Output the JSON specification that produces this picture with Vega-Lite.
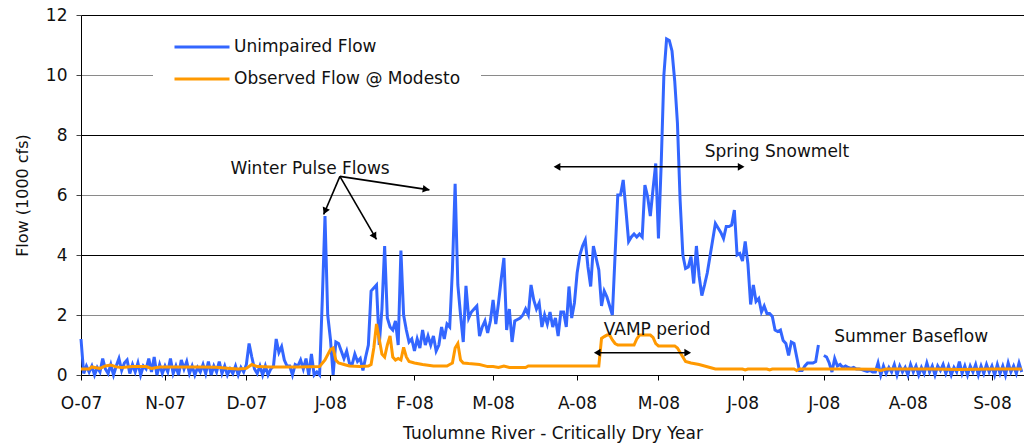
{
  "$schema": "https://vega.github.io/schema/vega-lite/v6.json",
  "width": 943,
  "height": 360,
  "autosize": {"type": "none"},
  "padding": {"left": 81, "top": 15, "right": 0, "bottom": 69},
  "background": "white",
  "config": {
    "view": {"stroke": null},
    "font": "DejaVu Sans",
    "text": {"font": "DejaVu Sans"}
  },
  "datasets": {
    "unimpaired": [
      {"date": "2007-10-01", "flow": 1.2}, {"date": "2007-10-02", "flow": 0.05}, {"date": "2007-10-03", "flow": 0.3}, {"date": "2007-10-04", "flow": 0.1}, {"date": "2007-10-05", "flow": 0.3}, {"date": "2007-10-06", "flow": 0.0}, {"date": "2007-10-07", "flow": 0.25}, {"date": "2007-10-08", "flow": 0.1}, {"date": "2007-10-09", "flow": 0.55}, {"date": "2007-10-10", "flow": 0.2}, {"date": "2007-10-11", "flow": 0.05}, {"date": "2007-10-12", "flow": 0.35}, {"date": "2007-10-13", "flow": 0.0}, {"date": "2007-10-14", "flow": 0.3}, {"date": "2007-10-15", "flow": 0.55}, {"date": "2007-10-16", "flow": 0.15}, {"date": "2007-10-17", "flow": 0.4}, {"date": "2007-10-18", "flow": 0.5}, {"date": "2007-10-19", "flow": 0.05}, {"date": "2007-10-20", "flow": 0.35}, {"date": "2007-10-21", "flow": 0.1}, {"date": "2007-10-22", "flow": 0.4}, {"date": "2007-10-23", "flow": 0.0}, {"date": "2007-10-24", "flow": 0.3}, {"date": "2007-10-25", "flow": 0.2}, {"date": "2007-10-26", "flow": 0.55}, {"date": "2007-10-27", "flow": 0.1}, {"date": "2007-10-28", "flow": 0.6}, {"date": "2007-10-29", "flow": 0.0}, {"date": "2007-10-30", "flow": 0.35}, {"date": "2007-10-31", "flow": 0.05},
      {"date": "2007-11-01", "flow": 0.3}, {"date": "2007-11-02", "flow": 0.1}, {"date": "2007-11-03", "flow": 0.55}, {"date": "2007-11-04", "flow": 0.05}, {"date": "2007-11-05", "flow": 0.3}, {"date": "2007-11-06", "flow": 0.0}, {"date": "2007-11-07", "flow": 0.5}, {"date": "2007-11-08", "flow": 0.2}, {"date": "2007-11-09", "flow": 0.45}, {"date": "2007-11-10", "flow": 0.05}, {"date": "2007-11-11", "flow": 0.3}, {"date": "2007-11-12", "flow": 0.0}, {"date": "2007-11-13", "flow": 0.25}, {"date": "2007-11-14", "flow": 0.1}, {"date": "2007-11-15", "flow": 0.35}, {"date": "2007-11-16", "flow": 0.05}, {"date": "2007-11-17", "flow": 0.45}, {"date": "2007-11-18", "flow": 0.0}, {"date": "2007-11-19", "flow": 0.3}, {"date": "2007-11-20", "flow": 0.1}, {"date": "2007-11-21", "flow": 0.45}, {"date": "2007-11-22", "flow": 0.05}, {"date": "2007-11-23", "flow": 0.3}, {"date": "2007-11-24", "flow": 0.0}, {"date": "2007-11-25", "flow": 0.2}, {"date": "2007-11-26", "flow": 0.05}, {"date": "2007-11-27", "flow": 0.3}, {"date": "2007-11-28", "flow": 0.0}, {"date": "2007-11-29", "flow": 0.25}, {"date": "2007-11-30", "flow": 0.1},
      {"date": "2007-12-01", "flow": 0.35}, {"date": "2007-12-02", "flow": 1.05}, {"date": "2007-12-03", "flow": 0.6}, {"date": "2007-12-04", "flow": 0.2}, {"date": "2007-12-05", "flow": 0.05}, {"date": "2007-12-06", "flow": 0.3}, {"date": "2007-12-07", "flow": 0.0}, {"date": "2007-12-08", "flow": 0.3}, {"date": "2007-12-09", "flow": 0.0}, {"date": "2007-12-10", "flow": 0.2}, {"date": "2007-12-11", "flow": 0.3}, {"date": "2007-12-12", "flow": 1.2}, {"date": "2007-12-13", "flow": 0.75}, {"date": "2007-12-14", "flow": 0.95}, {"date": "2007-12-15", "flow": 0.5}, {"date": "2007-12-16", "flow": 0.3}, {"date": "2007-12-17", "flow": 0.3}, {"date": "2007-12-18", "flow": 0.0}, {"date": "2007-12-19", "flow": 0.35}, {"date": "2007-12-20", "flow": 0.3}, {"date": "2007-12-21", "flow": 0.5}, {"date": "2007-12-22", "flow": 0.2}, {"date": "2007-12-23", "flow": 0.55}, {"date": "2007-12-24", "flow": 0.0}, {"date": "2007-12-25", "flow": 0.7}, {"date": "2007-12-26", "flow": 0.0}, {"date": "2007-12-27", "flow": 0.1}, {"date": "2007-12-28", "flow": 0.0}, {"date": "2007-12-29", "flow": 2.5}, {"date": "2007-12-30", "flow": 5.3}, {"date": "2007-12-31", "flow": 2.0},
      {"date": "2008-01-01", "flow": 1.2}, {"date": "2008-01-02", "flow": 0.0}, {"date": "2008-01-03", "flow": 1.1}, {"date": "2008-01-04", "flow": 1.05}, {"date": "2008-01-05", "flow": 0.8}, {"date": "2008-01-06", "flow": 0.55}, {"date": "2008-01-07", "flow": 0.8}, {"date": "2008-01-08", "flow": 0.4}, {"date": "2008-01-09", "flow": 0.35}, {"date": "2008-01-10", "flow": 0.7}, {"date": "2008-01-11", "flow": 0.45}, {"date": "2008-01-12", "flow": 0.55}, {"date": "2008-01-13", "flow": 0.15}, {"date": "2008-01-14", "flow": 0.6}, {"date": "2008-01-15", "flow": 1.0}, {"date": "2008-01-16", "flow": 2.8}, {"date": "2008-01-17", "flow": 2.9}, {"date": "2008-01-18", "flow": 3.0}, {"date": "2008-01-19", "flow": 1.0}, {"date": "2008-01-20", "flow": 2.2}, {"date": "2008-01-21", "flow": 4.3}, {"date": "2008-01-22", "flow": 1.9}, {"date": "2008-01-23", "flow": 1.6}, {"date": "2008-01-24", "flow": 1.5}, {"date": "2008-01-25", "flow": 1.8}, {"date": "2008-01-26", "flow": 1.0}, {"date": "2008-01-27", "flow": 4.15}, {"date": "2008-01-28", "flow": 2.0}, {"date": "2008-01-29", "flow": 1.5}, {"date": "2008-01-30", "flow": 1.1}, {"date": "2008-01-31", "flow": 1.2},
      {"date": "2008-02-01", "flow": 0.8}, {"date": "2008-02-02", "flow": 1.2}, {"date": "2008-02-03", "flow": 0.9}, {"date": "2008-02-04", "flow": 1.5}, {"date": "2008-02-05", "flow": 1.0}, {"date": "2008-02-06", "flow": 1.3}, {"date": "2008-02-07", "flow": 1.0}, {"date": "2008-02-08", "flow": 1.3}, {"date": "2008-02-09", "flow": 0.8}, {"date": "2008-02-10", "flow": 1.0}, {"date": "2008-02-11", "flow": 1.6}, {"date": "2008-02-12", "flow": 1.2}, {"date": "2008-02-13", "flow": 1.7}, {"date": "2008-02-14", "flow": 1.6}, {"date": "2008-02-15", "flow": 3.5}, {"date": "2008-02-16", "flow": 6.37}, {"date": "2008-02-17", "flow": 3.0}, {"date": "2008-02-18", "flow": 2.0}, {"date": "2008-02-19", "flow": 1.1}, {"date": "2008-02-20", "flow": 2.97}, {"date": "2008-02-21", "flow": 1.9}, {"date": "2008-02-22", "flow": 2.1}, {"date": "2008-02-23", "flow": 2.2}, {"date": "2008-02-24", "flow": 2.3}, {"date": "2008-02-25", "flow": 1.3}, {"date": "2008-02-26", "flow": 1.6}, {"date": "2008-02-27", "flow": 1.8}, {"date": "2008-02-28", "flow": 1.4}, {"date": "2008-02-29", "flow": 1.8},
      {"date": "2008-03-01", "flow": 2.5}, {"date": "2008-03-02", "flow": 1.7}, {"date": "2008-03-03", "flow": 2.4}, {"date": "2008-03-04", "flow": 3.2}, {"date": "2008-03-05", "flow": 3.9}, {"date": "2008-03-06", "flow": 1.5}, {"date": "2008-03-07", "flow": 2.2}, {"date": "2008-03-08", "flow": 1.1}, {"date": "2008-03-09", "flow": 1.8}, {"date": "2008-03-10", "flow": 1.85}, {"date": "2008-03-11", "flow": 1.9}, {"date": "2008-03-12", "flow": 2.0}, {"date": "2008-03-13", "flow": 2.2}, {"date": "2008-03-14", "flow": 2.0}, {"date": "2008-03-15", "flow": 3.0}, {"date": "2008-03-16", "flow": 2.5}, {"date": "2008-03-17", "flow": 2.2}, {"date": "2008-03-18", "flow": 2.4}, {"date": "2008-03-19", "flow": 1.6}, {"date": "2008-03-20", "flow": 2.0}, {"date": "2008-03-21", "flow": 1.7}, {"date": "2008-03-22", "flow": 2.1}, {"date": "2008-03-23", "flow": 1.6}, {"date": "2008-03-24", "flow": 1.9}, {"date": "2008-03-25", "flow": 1.3}, {"date": "2008-03-26", "flow": 2.1}, {"date": "2008-03-27", "flow": 2.1}, {"date": "2008-03-28", "flow": 1.6}, {"date": "2008-03-29", "flow": 2.95}, {"date": "2008-03-30", "flow": 1.9}, {"date": "2008-03-31", "flow": 2.4},
      {"date": "2008-04-01", "flow": 3.4}, {"date": "2008-04-02", "flow": 4.0}, {"date": "2008-04-03", "flow": 4.3}, {"date": "2008-04-04", "flow": 4.5}, {"date": "2008-04-05", "flow": 3.6}, {"date": "2008-04-06", "flow": 2.95}, {"date": "2008-04-07", "flow": 4.3}, {"date": "2008-04-08", "flow": 3.9}, {"date": "2008-04-09", "flow": 3.5}, {"date": "2008-04-10", "flow": 2.3}, {"date": "2008-04-11", "flow": 2.8}, {"date": "2008-04-12", "flow": 2.6}, {"date": "2008-04-13", "flow": 2.3}, {"date": "2008-04-14", "flow": 2.0}, {"date": "2008-04-15", "flow": 4.0}, {"date": "2008-04-16", "flow": 6.0}, {"date": "2008-04-17", "flow": 6.0}, {"date": "2008-04-18", "flow": 6.5}, {"date": "2008-04-19", "flow": 5.5}, {"date": "2008-04-20", "flow": 4.45}, {"date": "2008-04-21", "flow": 4.6}, {"date": "2008-04-22", "flow": 4.7}, {"date": "2008-04-23", "flow": 4.6}, {"date": "2008-04-24", "flow": 4.7}, {"date": "2008-04-25", "flow": 4.6}, {"date": "2008-04-26", "flow": 6.33}, {"date": "2008-04-27", "flow": 5.95}, {"date": "2008-04-28", "flow": 5.3}, {"date": "2008-04-29", "flow": 6.2}, {"date": "2008-04-30", "flow": 7.05},
      {"date": "2008-05-01", "flow": 4.55}, {"date": "2008-05-02", "flow": 7.0}, {"date": "2008-05-03", "flow": 10.0}, {"date": "2008-05-04", "flow": 11.2}, {"date": "2008-05-05", "flow": 11.15}, {"date": "2008-05-06", "flow": 10.8}, {"date": "2008-05-07", "flow": 9.8}, {"date": "2008-05-08", "flow": 8.4}, {"date": "2008-05-09", "flow": 5.8}, {"date": "2008-05-10", "flow": 4.0}, {"date": "2008-05-11", "flow": 3.55}, {"date": "2008-05-12", "flow": 3.6}, {"date": "2008-05-13", "flow": 3.95}, {"date": "2008-05-14", "flow": 3.05}, {"date": "2008-05-15", "flow": 4.3}, {"date": "2008-05-16", "flow": 3.3}, {"date": "2008-05-17", "flow": 2.65}, {"date": "2008-05-18", "flow": 3.0}, {"date": "2008-05-19", "flow": 3.4}, {"date": "2008-05-20", "flow": 3.95}, {"date": "2008-05-21", "flow": 4.5}, {"date": "2008-05-22", "flow": 5.05}, {"date": "2008-05-23", "flow": 4.9}, {"date": "2008-05-24", "flow": 4.75}, {"date": "2008-05-25", "flow": 4.55}, {"date": "2008-05-26", "flow": 4.95}, {"date": "2008-05-27", "flow": 4.95}, {"date": "2008-05-28", "flow": 5.0}, {"date": "2008-05-29", "flow": 5.5}, {"date": "2008-05-30", "flow": 4.0}, {"date": "2008-05-31", "flow": 4.05},
      {"date": "2008-06-01", "flow": 3.8}, {"date": "2008-06-02", "flow": 4.45}, {"date": "2008-06-03", "flow": 3.7}, {"date": "2008-06-04", "flow": 2.35}, {"date": "2008-06-05", "flow": 3.0}, {"date": "2008-06-06", "flow": 2.45}, {"date": "2008-06-07", "flow": 2.55}, {"date": "2008-06-08", "flow": 2.1}, {"date": "2008-06-09", "flow": 2.3}, {"date": "2008-06-10", "flow": 2.05}, {"date": "2008-06-11", "flow": 2.05}, {"date": "2008-06-12", "flow": 1.95}, {"date": "2008-06-13", "flow": 1.5}, {"date": "2008-06-14", "flow": 1.45}, {"date": "2008-06-15", "flow": 1.5}, {"date": "2008-06-16", "flow": 1.15}, {"date": "2008-06-17", "flow": 1.05}, {"date": "2008-06-18", "flow": 0.65}, {"date": "2008-06-19", "flow": 1.1}, {"date": "2008-06-20", "flow": 1.05}, {"date": "2008-06-21", "flow": 0.6}, {"date": "2008-06-22", "flow": 0.15}, {"date": "2008-06-23", "flow": 0.15}, {"date": "2008-06-24", "flow": 0.3}, {"date": "2008-06-25", "flow": 0.4}, {"date": "2008-06-26", "flow": 0.4}, {"date": "2008-06-27", "flow": 0.4}, {"date": "2008-06-28", "flow": 0.45}, {"date": "2008-06-29", "flow": 1.0}, {"date": "2008-06-30", "flow": null},
      {"date": "2008-07-01", "flow": 0.65}, {"date": "2008-07-02", "flow": 0.6}, {"date": "2008-07-03", "flow": 0.4}, {"date": "2008-07-04", "flow": 0.1}, {"date": "2008-07-05", "flow": 0.55}, {"date": "2008-07-06", "flow": 0.3}, {"date": "2008-07-07", "flow": 0.35}, {"date": "2008-07-08", "flow": 0.25}, {"date": "2008-07-09", "flow": 0.3}, {"date": "2008-07-10", "flow": 0.25}, {"date": "2008-07-11", "flow": 0.22}, {"date": "2008-07-12", "flow": 0.25}, {"date": "2008-07-13", "flow": 0.2}, {"date": "2008-07-14", "flow": 0.2}, {"date": "2008-07-15", "flow": 0.18}, {"date": "2008-07-16", "flow": 0.15}, {"date": "2008-07-17", "flow": 0.12}, {"date": "2008-07-18", "flow": 0.15}, {"date": "2008-07-19", "flow": 0.1}, {"date": "2008-07-20", "flow": 0.1}, {"date": "2008-07-21", "flow": 0.4}, {"date": "2008-07-22", "flow": 0.0}, {"date": "2008-07-23", "flow": 0.3}, {"date": "2008-07-24", "flow": 0.05}, {"date": "2008-07-25", "flow": 0.25}, {"date": "2008-07-26", "flow": 0.1}, {"date": "2008-07-27", "flow": 0.35}, {"date": "2008-07-28", "flow": 0.0}, {"date": "2008-07-29", "flow": 0.3}, {"date": "2008-07-30", "flow": 0.1}, {"date": "2008-07-31", "flow": 0.25},
      {"date": "2008-08-01", "flow": 0.0}, {"date": "2008-08-02", "flow": 0.35}, {"date": "2008-08-03", "flow": 0.1}, {"date": "2008-08-04", "flow": 0.3}, {"date": "2008-08-05", "flow": 0.0}, {"date": "2008-08-06", "flow": 0.25}, {"date": "2008-08-07", "flow": 0.05}, {"date": "2008-08-08", "flow": 0.4}, {"date": "2008-08-09", "flow": 0.1}, {"date": "2008-08-10", "flow": 0.3}, {"date": "2008-08-11", "flow": 0.0}, {"date": "2008-08-12", "flow": 0.3}, {"date": "2008-08-13", "flow": 0.15}, {"date": "2008-08-14", "flow": 0.35}, {"date": "2008-08-15", "flow": 0.05}, {"date": "2008-08-16", "flow": 0.3}, {"date": "2008-08-17", "flow": 0.0}, {"date": "2008-08-18", "flow": 0.25}, {"date": "2008-08-19", "flow": 0.1}, {"date": "2008-08-20", "flow": 0.45}, {"date": "2008-08-21", "flow": 0.05}, {"date": "2008-08-22", "flow": 0.3}, {"date": "2008-08-23", "flow": 0.0}, {"date": "2008-08-24", "flow": 0.3}, {"date": "2008-08-25", "flow": 0.1}, {"date": "2008-08-26", "flow": 0.35}, {"date": "2008-08-27", "flow": 0.0}, {"date": "2008-08-28", "flow": 0.3}, {"date": "2008-08-29", "flow": 0.05}, {"date": "2008-08-30", "flow": 0.35}, {"date": "2008-08-31", "flow": 0.1},
      {"date": "2008-09-01", "flow": 0.3}, {"date": "2008-09-02", "flow": 0.0}, {"date": "2008-09-03", "flow": 0.35}, {"date": "2008-09-04", "flow": 0.05}, {"date": "2008-09-05", "flow": 0.3}, {"date": "2008-09-06", "flow": 0.0}, {"date": "2008-09-07", "flow": 0.4}, {"date": "2008-09-08", "flow": 0.1}, {"date": "2008-09-09", "flow": 0.3}, {"date": "2008-09-10", "flow": 0.05}, {"date": "2008-09-11", "flow": 0.4}, {"date": "2008-09-12", "flow": 0.1}
    ],
    "observed": [
      {"date": "2007-10-01", "flow": 0.2}, {"date": "2007-10-04", "flow": 0.2}, {"date": "2007-10-05", "flow": 0.27}, {"date": "2007-10-08", "flow": 0.22}, {"date": "2007-10-10", "flow": 0.3}, {"date": "2007-10-12", "flow": 0.33}, {"date": "2007-10-14", "flow": 0.27}, {"date": "2007-10-16", "flow": 0.25}, {"date": "2007-10-20", "flow": 0.28}, {"date": "2007-10-25", "flow": 0.28}, {"date": "2007-10-27", "flow": 0.22}, {"date": "2007-10-30", "flow": 0.27},
      {"date": "2007-11-05", "flow": 0.27}, {"date": "2007-11-15", "flow": 0.27}, {"date": "2007-11-20", "flow": 0.26}, {"date": "2007-11-25", "flow": 0.22}, {"date": "2007-11-28", "flow": 0.2},
      {"date": "2007-12-01", "flow": 0.22}, {"date": "2007-12-03", "flow": 0.35}, {"date": "2007-12-05", "flow": 0.28}, {"date": "2007-12-10", "flow": 0.27}, {"date": "2007-12-20", "flow": 0.27}, {"date": "2007-12-28", "flow": 0.28}, {"date": "2007-12-30", "flow": 0.5},
      {"date": "2008-01-01", "flow": 0.85}, {"date": "2008-01-02", "flow": 0.9}, {"date": "2008-01-03", "flow": 0.5}, {"date": "2008-01-04", "flow": 0.4}, {"date": "2008-01-06", "flow": 0.35}, {"date": "2008-01-08", "flow": 0.3}, {"date": "2008-01-12", "flow": 0.28}, {"date": "2008-01-15", "flow": 0.3}, {"date": "2008-01-16", "flow": 0.35}, {"date": "2008-01-17", "flow": 0.9}, {"date": "2008-01-18", "flow": 1.7}, {"date": "2008-01-19", "flow": 1.2}, {"date": "2008-01-20", "flow": 0.7}, {"date": "2008-01-21", "flow": 0.6}, {"date": "2008-01-22", "flow": 1.0}, {"date": "2008-01-23", "flow": 1.3}, {"date": "2008-01-24", "flow": 0.6}, {"date": "2008-01-25", "flow": 0.5}, {"date": "2008-01-26", "flow": 0.55}, {"date": "2008-01-27", "flow": 0.5}, {"date": "2008-01-28", "flow": 0.92}, {"date": "2008-01-29", "flow": 0.6}, {"date": "2008-01-30", "flow": 0.45},
      {"date": "2008-02-01", "flow": 0.4}, {"date": "2008-02-04", "flow": 0.35}, {"date": "2008-02-08", "flow": 0.3}, {"date": "2008-02-13", "flow": 0.3}, {"date": "2008-02-14", "flow": 0.35}, {"date": "2008-02-15", "flow": 0.4}, {"date": "2008-02-16", "flow": 0.9}, {"date": "2008-02-17", "flow": 1.05}, {"date": "2008-02-18", "flow": 0.5}, {"date": "2008-02-19", "flow": 0.4}, {"date": "2008-02-21", "flow": 0.38}, {"date": "2008-02-25", "flow": 0.35}, {"date": "2008-02-28", "flow": 0.28},
      {"date": "2008-03-01", "flow": 0.28}, {"date": "2008-03-03", "flow": 0.25}, {"date": "2008-03-05", "flow": 0.3}, {"date": "2008-03-07", "flow": 0.25}, {"date": "2008-03-13", "flow": 0.25}, {"date": "2008-03-14", "flow": 0.3},
      {"date": "2008-04-09", "flow": 0.3}, {"date": "2008-04-10", "flow": 1.22}, {"date": "2008-04-11", "flow": 1.28}, {"date": "2008-04-12", "flow": 1.33}, {"date": "2008-04-13", "flow": 1.33}, {"date": "2008-04-14", "flow": 1.17}, {"date": "2008-04-15", "flow": 1.05}, {"date": "2008-04-16", "flow": 1.0}, {"date": "2008-04-22", "flow": 1.0}, {"date": "2008-04-23", "flow": 1.2}, {"date": "2008-04-24", "flow": 1.33}, {"date": "2008-04-28", "flow": 1.33}, {"date": "2008-04-29", "flow": 1.25}, {"date": "2008-04-30", "flow": 1.05},
      {"date": "2008-05-01", "flow": 0.97}, {"date": "2008-05-07", "flow": 0.97}, {"date": "2008-05-08", "flow": 0.9}, {"date": "2008-05-09", "flow": 0.75}, {"date": "2008-05-10", "flow": 0.6}, {"date": "2008-05-11", "flow": 0.45}, {"date": "2008-05-13", "flow": 0.4}, {"date": "2008-05-16", "flow": 0.35}, {"date": "2008-05-18", "flow": 0.3}, {"date": "2008-05-20", "flow": 0.25}, {"date": "2008-05-22", "flow": 0.2},
      {"date": "2008-06-01", "flow": 0.2}, {"date": "2008-06-02", "flow": 0.17}, {"date": "2008-06-03", "flow": 0.2}, {"date": "2008-06-10", "flow": 0.2}, {"date": "2008-06-11", "flow": 0.17}, {"date": "2008-06-12", "flow": 0.2}, {"date": "2008-06-20", "flow": 0.2}, {"date": "2008-06-21", "flow": 0.15}, {"date": "2008-06-22", "flow": 0.2},
      {"date": "2008-07-10", "flow": 0.2}, {"date": "2008-07-20", "flow": 0.19}, {"date": "2008-07-22", "flow": 0.15}, {"date": "2008-07-24", "flow": 0.2},
      {"date": "2008-08-10", "flow": 0.2}, {"date": "2008-08-20", "flow": 0.18}, {"date": "2008-09-01", "flow": 0.2}, {"date": "2008-09-12", "flow": 0.2}
    ]
  },
  "layer": [
    {
      "data": {"name": "unimpaired"},
      "mark": {"type": "line", "strokeWidth": 3, "invalid": "break-paths-show-domains"},
      "encoding": {
        "x": {
          "field": "date", "type": "temporal",
          "scale": {"type": "utc", "domain": [{"year": 2007, "month": 10, "date": 1, "utc": true}, {"year": 2008, "month": 9, "date": 12, "hours": 20, "utc": true}]},
          "axis": {
            "tickCount": {"interval": "month", "step": 1},
            "labelExpr": "substring(utcFormat(datum.value, '%b'), 0, 1) + '-' + utcFormat(datum.value, '%y')",
            "grid": false,
            "domainColor": "#000000",
            "tickColor": "#000000",
            "tickSize": 5,
            "labelFont": "DejaVu Sans",
            "labelFontSize": 17,
            "labelColor": "#111111",
            "labelPadding": 15,
            "labelFlush": false,
            "labelOverlap": false,
            "title": "Tuolumne River - Critically Dry Year",
            "titleFont": "DejaVu Sans",
            "titleFontSize": 17,
            "titleFontWeight": "normal",
            "titleColor": "#111111",
            "titlePadding": 14
          }
        },
        "y": {
          "field": "flow", "type": "quantitative",
          "scale": {"domain": [0, 12]},
          "axis": {
            "values": [0, 2, 4, 6, 8, 10, 12],
            "grid": true,
            "gridColor": {"condition": {"test": "datum.value % 4 === 0", "value": "#000000"}, "value": "#8a8a8a"},
            "gridWidth": 1,
            "domainColor": "#000000",
            "tickColor": "#444444",
            "tickSize": 5,
            "labelFont": "DejaVu Sans",
            "labelFontSize": 17,
            "labelColor": "#111111",
            "labelPadding": 9,
            "title": "Flow (1000 cfs)",
            "titleFont": "DejaVu Sans",
            "titleFontSize": 16,
            "titleFontWeight": "normal",
            "titleColor": "#111111",
            "titlePadding": 15
          }
        },
        "color": {
          "datum": "Unimpaired Flow",
          "scale": {"domain": ["Unimpaired Flow", "Observed Flow @ Modesto"], "range": ["#3366FF", "#FF9900"]},
          "legend": {
            "title": null,
            "orient": "none",
            "legendX": 72,
            "legendY": 2,
            "padding": 20,
            "fillColor": "white",
            "symbolType": "stroke",
            "symbolSize": 3025,
            "symbolStrokeWidth": 3,
            "labelFont": "DejaVu Sans",
            "labelFontSize": 17,
            "labelColor": "#111111",
            "labelOffset": 3,
            "clipHeight": 20,
            "rowPadding": 12,
            "labelLimit": 400
          }
        }
      }
    },
    {
      "data": {"name": "observed"},
      "mark": {"type": "line", "strokeWidth": 3},
      "encoding": {
        "x": {"field": "date", "type": "temporal"},
        "y": {"field": "flow", "type": "quantitative"},
        "color": {"datum": "Observed Flow @ Modesto"}
      }
    },
    {
      "data": {"values": [{}]},
      "mark": {"type": "rule", "color": "#000000", "strokeWidth": 1.6},
      "encoding": {
        "x": {"datum": {"year": 2008, "month": 1, "date": 4, "hours": 12, "utc": true}, "type": "temporal"},
        "y": {"datum": 6.62, "type": "quantitative"},
        "x2": {"datum": {"year": 2007, "month": 12, "date": 29, "hours": 12, "utc": true}},
        "y2": {"datum": 5.35}
      }
    },
    {
      "data": {"values": [{}]},
      "mark": {"type": "rule", "color": "#000000", "strokeWidth": 1.6},
      "encoding": {
        "x": {"datum": {"year": 2008, "month": 1, "date": 4, "hours": 12, "utc": true}, "type": "temporal"},
        "y": {"datum": 6.62, "type": "quantitative"},
        "x2": {"datum": {"year": 2008, "month": 1, "date": 18, "hours": 0, "utc": true}},
        "y2": {"datum": 4.52}
      }
    },
    {
      "data": {"values": [{}]},
      "mark": {"type": "rule", "color": "#000000", "strokeWidth": 1.6},
      "encoding": {
        "x": {"datum": {"year": 2008, "month": 1, "date": 4, "hours": 12, "utc": true}, "type": "temporal"},
        "y": {"datum": 6.62, "type": "quantitative"},
        "x2": {"datum": {"year": 2008, "month": 2, "date": 6, "hours": 12, "utc": true}},
        "y2": {"datum": 6.17}
      }
    },
    {
      "data": {"values": [{}]},
      "mark": {"type": "rule", "color": "#000000", "strokeWidth": 1.6},
      "encoding": {
        "x": {"datum": {"year": 2008, "month": 3, "date": 24, "utc": true}, "type": "temporal"},
        "y": {"datum": 6.94, "type": "quantitative"},
        "x2": {"datum": {"year": 2008, "month": 5, "date": 31, "hours": 12, "utc": true}},
        "y2": {"datum": 6.94}
      }
    },
    {
      "data": {"values": [{}]},
      "mark": {"type": "rule", "color": "#000000", "strokeWidth": 1.6},
      "encoding": {
        "x": {"datum": {"year": 2008, "month": 4, "date": 8, "utc": true}, "type": "temporal"},
        "y": {"datum": 0.743, "type": "quantitative"},
        "x2": {"datum": {"year": 2008, "month": 5, "date": 12, "hours": 8, "utc": true}},
        "y2": {"datum": 0.743}
      }
    },
    {
      "data": {"values": [{}]},
      "mark": {"type": "point", "shape": "triangle-up", "filled": true, "color": "#000000", "size": 60, "angle": 203, "opacity": 1},
      "encoding": {
        "x": {"datum": {"year": 2007, "month": 12, "date": 30, "utc": true}, "type": "temporal"},
        "y": {"datum": 5.46, "type": "quantitative"}
      }
    },
    {
      "data": {"values": [{}]},
      "mark": {"type": "point", "shape": "triangle-up", "filled": true, "color": "#000000", "size": 60, "angle": 150, "opacity": 1},
      "encoding": {
        "x": {"datum": {"year": 2008, "month": 1, "date": 17, "hours": 7, "utc": true}, "type": "temporal"},
        "y": {"datum": 4.62, "type": "quantitative"}
      }
    },
    {
      "data": {"values": [{}]},
      "mark": {"type": "point", "shape": "triangle-up", "filled": true, "color": "#000000", "size": 60, "angle": 99, "opacity": 1},
      "encoding": {
        "x": {"datum": {"year": 2008, "month": 2, "date": 5, "hours": 7, "utc": true}, "type": "temporal"},
        "y": {"datum": 6.19, "type": "quantitative"}
      }
    },
    {
      "data": {"values": [{}]},
      "mark": {"type": "point", "shape": "triangle-up", "filled": true, "color": "#000000", "size": 60, "angle": 270, "opacity": 1},
      "encoding": {
        "x": {"datum": {"year": 2008, "month": 3, "date": 24, "hours": 14, "utc": true}, "type": "temporal"},
        "y": {"datum": 6.94, "type": "quantitative"}
      }
    },
    {
      "data": {"values": [{}]},
      "mark": {"type": "point", "shape": "triangle-up", "filled": true, "color": "#000000", "size": 60, "angle": 90, "opacity": 1},
      "encoding": {
        "x": {"datum": {"year": 2008, "month": 5, "date": 31, "hours": 12, "utc": true}, "type": "temporal"},
        "y": {"datum": 6.94, "type": "quantitative"}
      }
    },
    {
      "data": {"values": [{}]},
      "mark": {"type": "point", "shape": "triangle-up", "filled": true, "color": "#000000", "size": 60, "angle": 270, "opacity": 1},
      "encoding": {
        "x": {"datum": {"year": 2008, "month": 4, "date": 8, "hours": 10, "utc": true}, "type": "temporal"},
        "y": {"datum": 0.743, "type": "quantitative"}
      }
    },
    {
      "data": {"values": [{}]},
      "mark": {"type": "point", "shape": "triangle-up", "filled": true, "color": "#000000", "size": 60, "angle": 90, "opacity": 1},
      "encoding": {
        "x": {"datum": {"year": 2008, "month": 5, "date": 11, "hours": 19, "utc": true}, "type": "temporal"},
        "y": {"datum": 0.743, "type": "quantitative"}
      }
    },
    {
      "data": {"values": [{}]},
      "mark": {"type": "text", "text": "Winter Pulse Flows", "font": "DejaVu Sans", "fontSize": 17, "color": "#111111", "align": "center", "baseline": "middle"},
      "encoding": {
        "x": {"datum": {"year": 2007, "month": 12, "date": 24, "hours": 12, "utc": true}, "type": "temporal"},
        "y": {"datum": 6.87, "type": "quantitative"}
      }
    },
    {
      "data": {"values": [{}]},
      "mark": {"type": "text", "text": "Spring Snowmelt", "font": "DejaVu Sans", "fontSize": 17, "color": "#111111", "align": "center", "baseline": "middle"},
      "encoding": {
        "x": {"datum": {"year": 2008, "month": 6, "date": 13, "hours": 17, "utc": true}, "type": "temporal"},
        "y": {"datum": 7.43, "type": "quantitative"}
      }
    },
    {
      "data": {"values": [{}]},
      "mark": {"type": "text", "text": "VAMP period", "font": "DejaVu Sans", "fontSize": 17, "color": "#111111", "align": "center", "baseline": "middle"},
      "encoding": {
        "x": {"datum": {"year": 2008, "month": 4, "date": 30, "hours": 12, "utc": true}, "type": "temporal"},
        "y": {"datum": 1.5, "type": "quantitative"}
      }
    },
    {
      "data": {"values": [{}]},
      "mark": {"type": "text", "text": "Summer Baseflow", "font": "DejaVu Sans", "fontSize": 17, "color": "#111111", "align": "center", "baseline": "middle"},
      "encoding": {
        "x": {"datum": {"year": 2008, "month": 8, "date": 2, "hours": 5, "utc": true}, "type": "temporal"},
        "y": {"datum": 1.27, "type": "quantitative"}
      }
    }
  ]
}
